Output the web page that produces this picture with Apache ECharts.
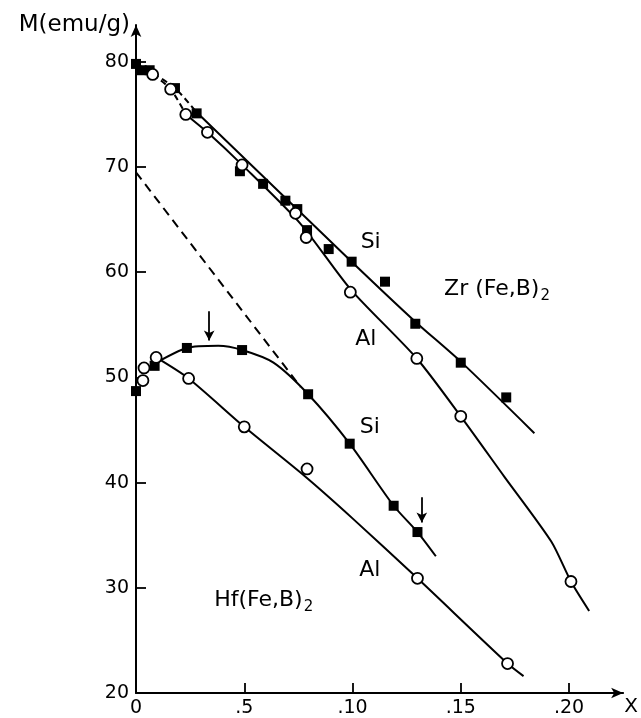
<!DOCTYPE html>
<html>
<head>
<meta charset="utf-8">
<script src="https://cdn.jsdelivr.net/npm/echarts@6/dist/echarts.min.js"></script>
<style>
  html, body { margin: 0; padding: 0; background: #fff; }
  #chart { width: 641px; height: 718px; }
</style>
</head>
<body>
<div id="chart"></div>
<script>
// ---- tick labels ----
const xTickValues = [0, 0.05, 0.10, 0.15, 0.20];
const xTickLabels = ['0', '.5', '.10', '.15', '.20'];
const yTickValues = [20, 30, 40, 50, 60, 70, 80];

// ---- measured points (x, M) ----
const zrSiPoints = [[0,79.8],[0.0026,79.2],[0.0063,79.2],[0.018,77.5],[0.028,75.1],[0.048,69.6],[0.0587,68.4],[0.069,66.8],[0.0745,66.0],[0.079,64.0],[0.089,62.2],[0.0996,61.0],[0.115,59.1],[0.129,55.1],[0.15,51.4],[0.171,48.1]];
const zrAlPoints = [[0.0077,78.8],[0.016,77.4],[0.023,75.0],[0.033,73.3],[0.049,70.2],[0.0737,65.6],[0.0786,63.3],[0.099,58.1],[0.1297,51.8],[0.15,46.3],[0.2009,30.6]];
const hfSiPoints = [[0,48.7],[0.0086,51.1],[0.0235,52.8],[0.049,52.6],[0.0795,48.4],[0.0987,43.7],[0.119,37.8],[0.130,35.3]];
const hfAlPoints = [[0.0032,49.7],[0.0037,50.9],[0.0093,51.9],[0.0243,49.9],[0.05,45.3],[0.079,41.3],[0.13,30.9],[0.1716,22.8]];

// ---- hand-drawn curves ----
const zrSiDashCurve = [[0,79.8],[0.0063,79.1],[0.018,77.5],[0.028,75.2]];
const zrSiCurve = [[0.028,75.2],[0.0996,61.0],[0.129,55.3],[0.15,51.5],[0.184,44.7]];
const zrAlDashCurve = [[0,79.8],[0.0077,78.8],[0.016,77.4],[0.023,75.0]];
const zrAlCurve = [[0.023,75.0],[0.033,73.3],[0.049,70.2],[0.076,64.6],[0.099,58.4],[0.1297,51.8],[0.15,46.3],[0.170,40.6],[0.1918,34.4],[0.2009,30.6],[0.2093,27.8]];
const hfSiCurve = [[0.0093,51.4],[0.0235,52.8],[0.038,53.0],[0.049,52.6],[0.0635,51.4],[0.0795,48.4],[0.0987,43.7],[0.119,37.8],[0.130,35.3],[0.1385,33.0]];
const hfAlCurve = [[0.0093,51.9],[0.0243,49.9],[0.05,45.3],[0.078,40.6],[0.10,36.6],[0.13,30.9],[0.1716,22.8],[0.179,21.6]];
const hfDashLine = [[0,69.5],[0.076,49.1]];

// ---- arrows: [x, yFrom, yTo] ----
const arrowMarks = [[0.0338,56.3,53.5],[0.132,38.6,36.2]];

// ---- text labels: [x, y, text, align] ----
const textLabels = [
  [0.1084, 62.8, '{a|Si}', 'center'],
  [0.1061, 53.6, '{a|Al}', 'center'],
  [0.108, 45.3, '{a|Si}', 'center'],
  [0.108, 31.7, '{a|Al}', 'center'],
  [0.1423, 58.4, '{a|Zr (Fe,B)}{s|2}', 'left'],
  [0.0361, 28.8, '{a|Hf(Fe,B)}{s|2}', 'left']
];

const FONT = 'DejaVu Sans';
const BLACK = '#000';

function curve(data, dashed) {
  return {
    type: 'line', data: data, showSymbol: false, smooth: 0.25,
    lineStyle: { color: BLACK, width: 2, type: dashed ? [6, 4] : 'solid' },
    z: 2, silent: true
  };
}
function squares(data) {
  return { type: 'scatter', data: data, symbol: 'rect', symbolSize: 10,
    itemStyle: { color: BLACK, opacity: 1 }, z: 4 };
}
function circles(data) {
  return { type: 'scatter', data: data, symbol: 'circle', symbolSize: 11,
    itemStyle: { color: '#fff', borderColor: BLACK, borderWidth: 1.8, opacity: 1 }, z: 5 };
}

const chart = echarts.init(document.getElementById('chart'));
chart.setOption({
  animation: false,
  backgroundColor: '#fff',
  grid: { left: 136, right: 13, top: 25, bottom: 23 },
  xAxis: {
    type: 'value', min: 0, max: 0.225,
    name: 'X', nameLocation: 'end', nameGap: 8,
    nameTextStyle: { fontFamily: FONT, fontSize: 20, color: BLACK, align: 'center', verticalAlign: 'top', padding: [4, 0, 0, 0] },
    axisLine: { show: true, symbol: ['none', 'arrow'], symbolSize: [8, 12], lineStyle: { color: BLACK, width: 2 } },
    axisTick: { show: true, inside: true, length: 10, customValues: xTickValues.slice(1), lineStyle: { color: BLACK, width: 1.8 } },
    axisLabel: {
      show: true, customValues: xTickValues, margin: 6,
      fontFamily: FONT, fontSize: 19, color: BLACK,
      formatter: function (v) {
        const i = xTickValues.findIndex(t => Math.abs(t - v) < 1e-9);
        return i >= 0 ? xTickLabels[i] : '';
      }
    },
    splitLine: { show: false }
  },
  yAxis: {
    type: 'value', min: 20, max: 83.5,
    name: 'M(emu/g)', nameLocation: 'end', nameGap: 0,
    nameTextStyle: { fontFamily: FONT, fontSize: 23, color: BLACK, align: 'right', verticalAlign: 'middle', padding: [0, 6, 0, 0] },
    axisLine: { show: true, symbol: ['none', 'arrow'], symbolSize: [8, 12], lineStyle: { color: BLACK, width: 2 } },
    axisTick: { show: true, inside: true, length: 10, customValues: yTickValues.slice(1), lineStyle: { color: BLACK, width: 1.8 } },
    axisLabel: { show: true, customValues: yTickValues, margin: 7, fontFamily: FONT, fontSize: 19, color: BLACK },
    splitLine: { show: false }
  },
  series: [
    curve(zrSiDashCurve, true),
    curve(zrAlDashCurve, true),
    curve(zrSiCurve, false),
    curve(zrAlCurve, false),
    curve(hfSiCurve, false),
    curve(hfAlCurve, false),
    Object.assign(curve(hfDashLine, true), { smooth: false, lineStyle: { color: BLACK, width: 2, type: [9, 6] } }),
    squares(zrSiPoints),
    circles(zrAlPoints),
    squares(hfSiPoints),
    circles(hfAlPoints),
    {
      type: 'line', data: [], silent: true,
      markLine: {
        silent: true, symbol: ['none', 'arrow'], symbolSize: [8, 10],
        label: { show: false },
        lineStyle: { color: BLACK, width: 1.8, type: 'solid' },
        data: arrowMarks.map(a => [{ coord: [a[0], a[1]] }, { coord: [a[0], a[2]] }])
      }
    },
    {
      type: 'scatter', symbolSize: 0, silent: true, z: 6,
      itemStyle: { opacity: 1 },
      data: textLabels.map(t => ({
        value: [t[0], t[1]],
        label: {
          show: true, position: 'inside', align: t[3], verticalAlign: 'middle',
          formatter: t[2], color: BLACK, opacity: 1,
          rich: {
            a: { fontFamily: FONT, fontSize: 22, color: BLACK },
            s: { fontFamily: FONT, fontSize: 15, color: BLACK, padding: [14, 0, 0, 1] }
          }
        }
      }))
    }
  ]
});
</script>
</body>
</html>
